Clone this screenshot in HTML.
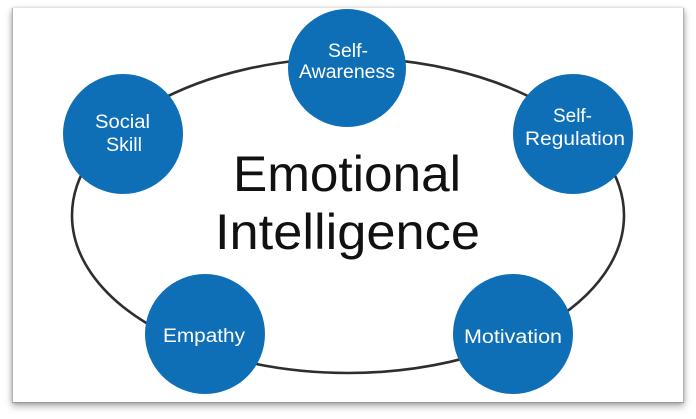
<!DOCTYPE html>
<html><head><meta charset="utf-8"><style>
html,body{margin:0;padding:0;background:#fff;width:696px;height:419px;overflow:hidden}
.card{position:absolute;left:12px;top:8px;width:670px;height:394px;background:#fff;border-left:1px solid #b5b5b5;border-right:1px solid #b5b5b5;border-bottom:1px solid #9a9a9a;box-shadow:0 3px 7px rgba(0,0,0,0.35),0 0 3px rgba(0,0,0,0.15)}
svg{position:absolute;left:0;top:0}
</style></head><body>
<div class="card"></div>
<svg width="696" height="419" viewBox="0 0 696 419" xmlns="http://www.w3.org/2000/svg">
<ellipse cx="348" cy="215.5" rx="276" ry="157.5" fill="none" stroke="#2e2e2e" stroke-width="2.6"/>
<g fill="#0e6fb7">
<circle cx="123" cy="134" r="60"/>
<circle cx="347" cy="68" r="59"/>
<circle cx="573" cy="134" r="60"/>
<circle cx="205" cy="334" r="60"/>
<circle cx="513" cy="334" r="60"/>
</g>
<g font-family="Liberation Sans, sans-serif" fill="#111" font-size="50">
<text x="233" y="191" textLength="228" lengthAdjust="spacingAndGlyphs">Emotional</text>
<text x="215" y="249" textLength="265" lengthAdjust="spacingAndGlyphs">Intelligence</text>
</g>
<g font-family="Liberation Sans, sans-serif" fill="#fff" font-size="19">
<text x="95" y="128" textLength="55" lengthAdjust="spacingAndGlyphs">Social</text>
<text x="106" y="151" textLength="36" lengthAdjust="spacingAndGlyphs">Skill</text>
<text x="328" y="57" textLength="40" lengthAdjust="spacingAndGlyphs">Self-</text>
<text x="299" y="78" textLength="96" lengthAdjust="spacingAndGlyphs">Awareness</text>
<text x="553" y="122" textLength="39" lengthAdjust="spacingAndGlyphs">Self-</text>
<text x="525" y="145" textLength="100" lengthAdjust="spacingAndGlyphs">Regulation</text>
<text x="163" y="342" textLength="82" lengthAdjust="spacingAndGlyphs">Empathy</text>
<text x="464" y="343" textLength="98" lengthAdjust="spacingAndGlyphs">Motivation</text>
</g>
</svg>
</body></html>
